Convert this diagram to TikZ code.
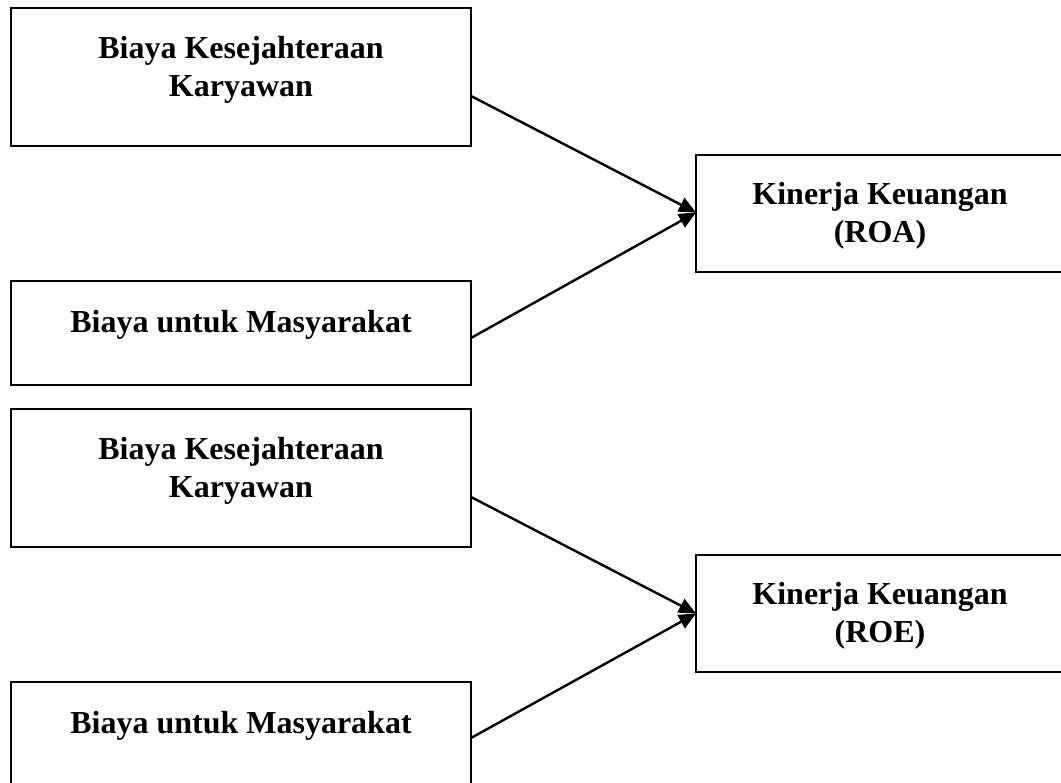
\documentclass[tikz,border=0pt]{standalone}
\usepackage{fontspec}
\setmainfont{Liberation Serif}
\usetikzlibrary{arrows.meta}
\begin{document}
\begin{tikzpicture}[x=1pt,y=-1pt,
  box/.style={draw=black,line width=2.2pt,rectangle,inner sep=0pt,outer sep=0pt},
  lbl/.style={align=center,inner sep=0pt,font=\bfseries\fontsize{32}{38}\selectfont},
  conn/.style={line width=2.4pt,-{Triangle[length=17pt,width=15pt]}}]
\useasboundingbox (0,0) rectangle (1061,783);
\clip (0,0) rectangle (1061,783);
\node[box,minimum width=460pt,minimum height=138pt] (b1) at (241,77) {};
\node[box,minimum width=460pt,minimum height=104pt] (b2) at (241,333) {};
\node[box,minimum width=368pt,minimum height=117pt] (b3) at (880,213.5) {};
\node[box,minimum width=460pt,minimum height=138pt] (b4) at (241,478) {};
\node[box,minimum width=460pt,minimum height=104pt] (b5) at (241,734) {};
\node[box,minimum width=368pt,minimum height=117pt] (b6) at (880,613.5) {};
\node[lbl] (t1) at (241,69.7) {Biaya Kesejahteraan\\Karyawan};
\node[lbl] (t2) at (241,324.7) {Biaya untuk Masyarakat};
\node[lbl] (t3) at (880,216) {Kinerja Keuangan\\(ROA)};
\node[lbl] (t4) at (241,470.7) {Biaya Kesejahteraan\\Karyawan};
\node[lbl] (t5) at (241,725.7) {Biaya untuk Masyarakat};
\node[lbl] (t6) at (880,616) {Kinerja Keuangan\\(ROE)};
\draw[conn] ([yshift=-19pt]b1.east) -- ([yshift=1pt]b3.west);
\draw[conn] ([yshift=-5pt]b2.east) -- ([yshift=1pt]b3.west);
\draw[conn] ([yshift=-19pt]b4.east) -- (b6.west);
\draw[conn] ([yshift=-4pt]b5.east) -- (b6.west);
\end{tikzpicture}
\end{document}
